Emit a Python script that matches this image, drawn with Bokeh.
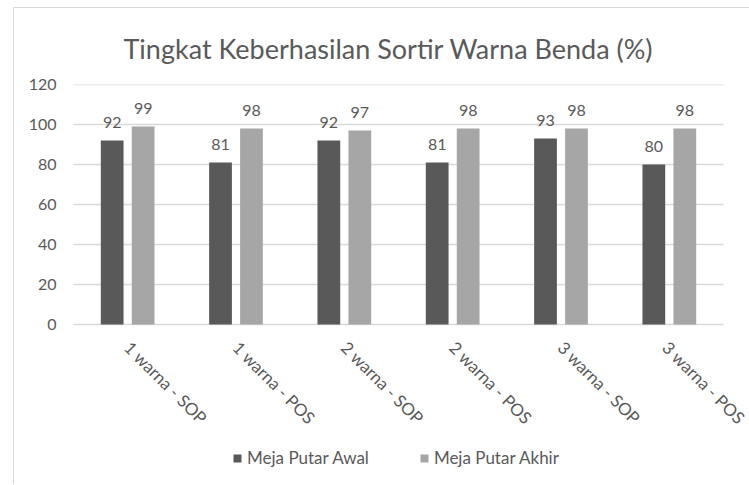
import math
from bokeh.plotting import figure
from bokeh.models import ColumnDataSource, FactorRange, Legend, LegendItem, FixedTicker, Range1d
from bokeh.transform import dodge
from bokeh.core.properties import value
from bokeh.embed import file_html
from bokeh.resources import INLINE

categories = ["1 warna - SOP", "1 warna - POS", "2 warna - SOP",
              "2 warna - POS", "3 warna - SOP", "3 warna - POS"]
awal = [92, 81, 92, 81, 93, 80]
akhir = [99, 98, 97, 98, 98, 98]
y_ticks = [0, 20, 40, 60, 80, 100, 120]
series_names = ["Meja Putar Awal", "Meja Putar Akhir"]

DARK = "#595959"
LIGHT = "#a6a6a6"
TXT = "#595959"
GRID = "#d9d9d9"
FONT = "Lato"

source = ColumnDataSource(dict(
    cat=categories, awal=awal, akhir=akhir,
    awal_lbl=[str(v) for v in awal], akhir_lbl=[str(v) for v in akhir],
))
grid_src = ColumnDataSource(dict(
    y=y_ticks, first=[categories[0]] * len(y_ticks), last=[categories[-1]] * len(y_ticks),
))

# frame extends below zero and a little to each side, so legend and rotated
# category labels (pinned at y=0) are drawn inside it without clipping
xr = FactorRange(*categories, range_padding=0.24, range_padding_units="absolute")
p = figure(x_range=xr, y_range=Range1d(-80, 120),
           frame_width=702, frame_height=400,
           output_backend="svg", toolbar_location=None,
           min_border_left=33, min_border_right=0, min_border_top=76,
           min_border_bottom=0,
           title="Tingkat Keberhasilan Sortir Warna Benda (%)",
           styles={"margin-left": "13px", "margin-top": "7px",
                   "border-left": "1px solid #d9d9d9",
                   "border-top": "1px solid #d9d9d9"})
p.outline_line_color = None
p.background_fill_color = "white"
p.border_fill_color = "white"

p.title.text_font = FONT
p.title.text_font_size = "27px"
p.title.text_font_style = "normal"
p.title.text_color = TXT
p.title.align = "left"
p.title.offset = 76
p.title.standoff = 40

# horizontal gridlines spanning the category area
p.segment(x0=dodge("first", -0.5, range=p.x_range), x1=dodge("last", 0.5, range=p.x_range),
          y0="y", y1="y", source=grid_src, line_color=GRID, line_width=1.5)

off = 0.143
w = 0.21
r1 = p.vbar(x=dodge("cat", -off, range=p.x_range), top="awal", width=w,
            source=source, fill_color=DARK, line_color=None)
r2 = p.vbar(x=dodge("cat", off, range=p.x_range), top="akhir", width=w,
            source=source, fill_color=LIGHT, line_color=None)

for o, col, lbl in [(-off, "awal", "awal_lbl"), (off, "akhir", "akhir_lbl")]:
    p.text(x=dodge("cat", o, range=p.x_range), y=col, text=lbl, source=source,
           text_align="center", text_baseline="bottom", y_offset=-13,
           text_font=value(FONT), text_font_size="16px", text_color=TXT)

p.yaxis.ticker = FixedTicker(ticks=y_ticks)
p.yaxis.axis_line_color = None
p.yaxis.major_tick_line_color = None
p.yaxis.minor_tick_line_color = None
p.yaxis.major_label_text_font = FONT
p.yaxis.major_label_text_font_size = "16px"
p.yaxis.major_label_text_color = TXT
p.yaxis.major_label_standoff = -15

p.xaxis.fixed_location = 0
p.xaxis.axis_line_color = None
p.xaxis.major_tick_line_color = None
p.xaxis.minor_tick_line_color = None
p.xaxis.major_label_orientation = -math.pi / 4
p.xaxis.major_label_text_font = FONT
p.xaxis.major_label_text_font_size = "17px"
p.xaxis.major_label_text_color = TXT
p.xaxis.major_label_standoff = 14

p.xgrid.grid_line_color = None
p.ygrid.grid_line_color = None

legend = Legend(items=[LegendItem(label=series_names[0], renderers=[r1]),
                       LegendItem(label=series_names[1], renderers=[r2])],
                orientation="horizontal", location=(185, 16))
legend.label_text_font = FONT
legend.label_text_font_size = "17px"
legend.label_text_color = TXT
legend.glyph_width = 10
legend.glyph_height = 10
legend.label_height = 20
legend.label_standoff = 5
legend.spacing = 50
legend.padding = 0
legend.margin = 0
legend.border_line_color = None
legend.background_fill_alpha = 0
p.add_layout(legend, "center")

open("out.html", "w").write(file_html(p, INLINE))
